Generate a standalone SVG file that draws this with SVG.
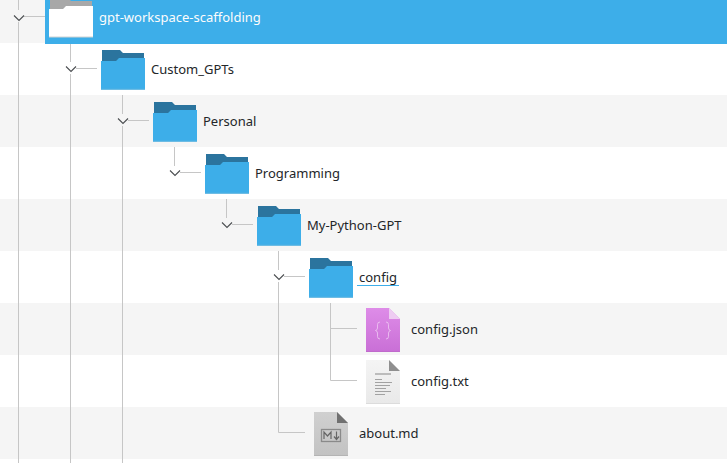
<svg xmlns="http://www.w3.org/2000/svg" width="727" height="463" viewBox="0 0 727 463">
<style>
.t{font-family:"Noto Sans","Open Sans",sans-serif;font-size:13px;fill:#232629}
.l{stroke:#c6c6c6;stroke-width:1;fill:none}
.c{stroke:#4a4d50;stroke-width:1.100;fill:none}
.ft{fill:#2b749e}
.ff{fill:#3daee9}
.fb{fill:#5fb4e0}
</style>
<defs>
<linearGradient id="gj" x1="0" y1="0" x2="0" y2="1"><stop offset="0" stop-color="#de8ce8"/><stop offset="1" stop-color="#c96fd6"/></linearGradient>
<linearGradient id="gt" x1="0" y1="0" x2="0" y2="1"><stop offset="0" stop-color="#f4f4f4"/><stop offset="1" stop-color="#e9e9e9"/></linearGradient>
<linearGradient id="gm" x1="0" y1="0" x2="0" y2="1"><stop offset="0" stop-color="#d0d0d0"/><stop offset="1" stop-color="#c2c2c2"/></linearGradient>
<g id="folder">
<path class="ft" d="M1 0H19L22 3H43V12H1Z"/>
<path class="ff" d="M0 11H15L18 8H44V39.500H0Z"/>
<path class="fb" d="M0 38.800H44V39.800H0Z"/>
</g>
<path id="chev" class="c" d="M-5-2.500L0 2.500L5-2.500"/>
</defs>
<g id="rows">
<rect width="727" height="463" fill="#fff"/>
<rect x="0" y="0" width="45" height="43" fill="#f5f5f5"/>
<rect x="45" y="0" width="682" height="44" fill="#3daee9"/>
<rect y="95" width="727" height="52" fill="#f5f5f5"/>
<rect y="199" width="727" height="52" fill="#f5f5f5"/>
<rect y="303" width="727" height="52" fill="#f5f5f5"/>
<rect y="407" width="727" height="52" fill="#f5f5f5"/>
</g>
<g id="connectors">
<path class="l" d="M18.500 0V10M18.500 22V463M24 16.500H45"/>
<path class="l" d="M70.500 44V62M70.500 74V463M76 68.500H97"/>
<path class="l" d="M122.500 95V114M122.500 126V463M128 120.500H149"/>
<path class="l" d="M174.500 147V166M180 172.500H201"/>
<path class="l" d="M226.500 199V218M232 224.500H253"/>
<path class="l" d="M278.500 251V270M278.500 282V432.500H305M284 276.500H305"/>
<path class="l" d="M330.500 303V380.500H357M330.500 328.500H357"/>
<use href="#chev" x="19" y="18"/>
<use href="#chev" x="71" y="69"/>
<use href="#chev" x="123" y="121"/>
<use href="#chev" x="175" y="173"/>
<use href="#chev" x="227" y="225"/>
<use href="#chev" x="279" y="277"/>
</g>
<g id="gpt-workspace-scaffolding">
<path d="M50-2H68L71 1H92V10H50Z" fill="#a8a8a8"/>
<path d="M49 9H63L66 6H93V37H49Z" fill="#fff"/>
<path d="M49 36.500H93V37.500H49Z" fill="#d2d3d4"/>
<text class="t" x="99" y="22" style="fill:#fcfcfc">gpt-workspace-scaffolding</text>
</g>
<g id="Custom_GPTs"><use href="#folder" x="101" y="50"/><text class="t" x="151" y="74">Custom_GPTs</text></g>
<g id="Personal"><use href="#folder" x="153" y="102"/><text class="t" x="203" y="126">Personal</text></g>
<g id="Programming"><use href="#folder" x="205" y="154"/><text class="t" x="255" y="178">Programming</text></g>
<g id="My-Python-GPT"><use href="#folder" x="257" y="206"/><text class="t" x="307" y="230">My-Python-GPT</text></g>
<g id="config"><use href="#folder" x="309" y="258"/><text class="t" x="359" y="282">config</text><path d="M357 285.500H399" stroke="#3daee9" fill="none"/></g>
<g id="config.json">
<path d="M366 308H389L400 319V352H366Z" fill="url(#gj)"/>
<path d="M389 308L400 319H389Z" fill="#eeccf2"/>
<path d="M366 351H400V352H366Z" fill="#c06bcc"/>
<path d="M380 322q-2.500 0-2.500 2.500V328q0 2-2 2.500q2 .5 2 2.500v3.500q0 2.500 2.500 2.500M386 322q2.500 0 2.500 2.500V328q0 2 2 2.500q-2 .5-2 2.500v3.500q0 2.500-2.500 2.500" fill="none" stroke="#efc9f3" stroke-width="0.800"/>
<text class="t" x="411" y="334">config.json</text>
</g>
<g id="config.txt">
<path d="M366 360H389L400 371V404H366Z" fill="url(#gt)"/>
<path d="M389 360L400 371H389Z" fill="#8f8f8f"/>
<path d="M366 403H400V404H366Z" fill="#dcdcdc"/>
<path d="M375 374H391" stroke="#bcbcbc" stroke-width="2" fill="none"/>
<path d="M375 379.500H382M375 382.500H392M375 385.500H390M375 388.500H386M375 391.500H391M375 394.500H385" stroke="#a2a2a2" stroke-width="1" fill="none"/>
<text class="t" x="411" y="386">config.txt</text>
</g>
<g id="about.md">
<path d="M314 412H337L348 423V456H314Z" fill="url(#gm)"/>
<path d="M337 412L348 423H337Z" fill="#707070"/>
<path d="M314 455H348V456H314Z" fill="#b4b4b4"/>
<rect x="321.500" y="429.500" width="19" height="12" fill="none" stroke="#8a8a8a" stroke-width="1.300"/>
<path d="M324 439V432L327.500 436L331 432V439M336.500 431.500V439M334 436.500L336.500 439.500L339 436.500" fill="none" stroke="#666" stroke-width="1.200"/>
<text class="t" x="359" y="438">about.md</text>
</g>
</svg>
